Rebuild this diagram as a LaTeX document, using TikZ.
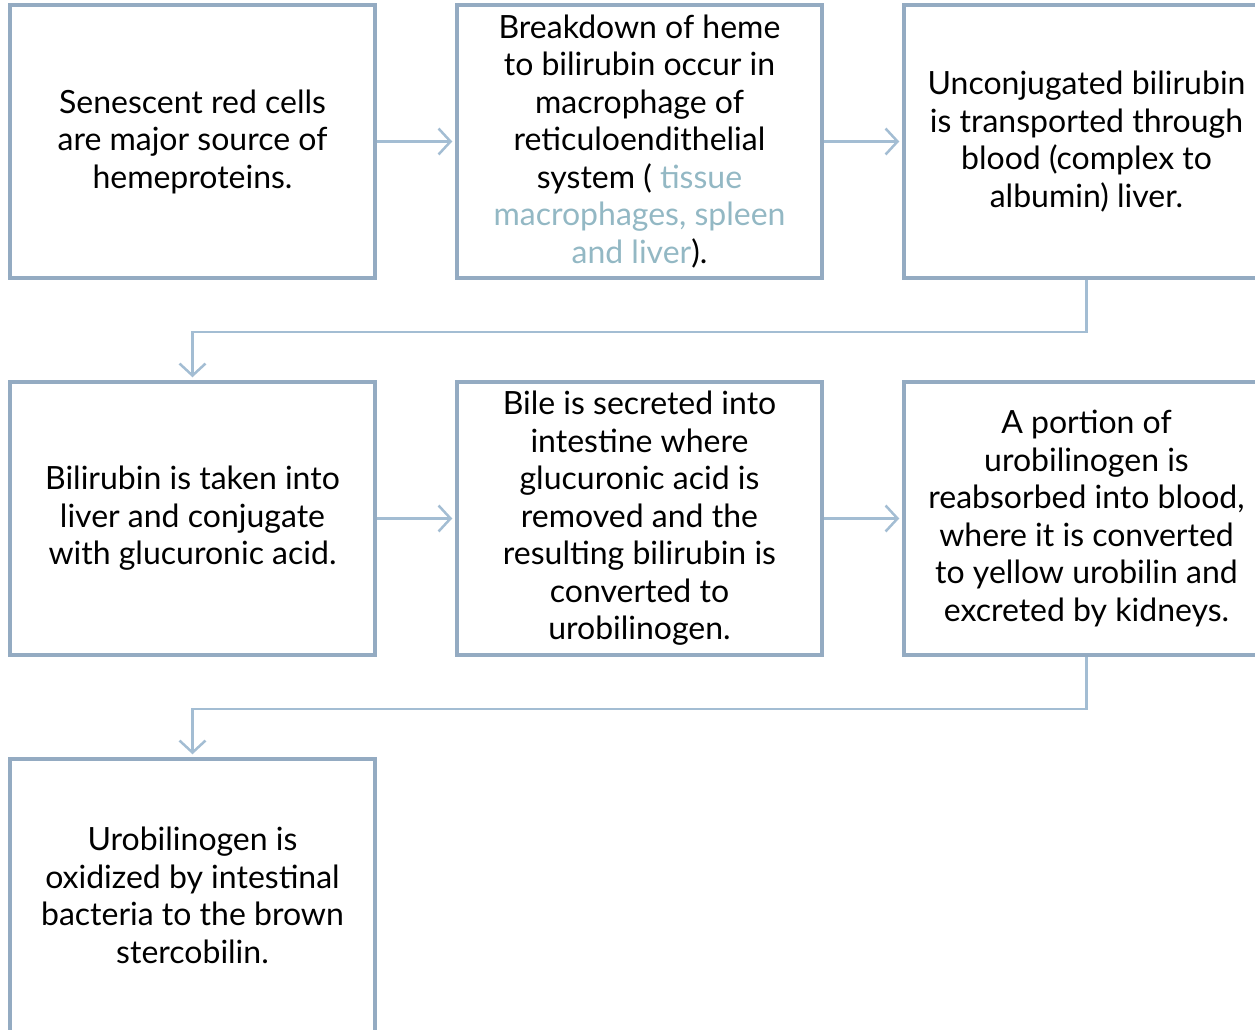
\documentclass[tikz,border=0pt]{standalone}
\usepackage{fontspec}
\setmainfont{Lato}
\usetikzlibrary{positioning,arrows.meta}
\definecolor{boxline}{RGB}{148,171,194}
\definecolor{flowline}{RGB}{163,189,211}
\definecolor{paletxt}{RGB}{147,184,196}
\begin{document}
\begin{tikzpicture}[x=1pt, y=-1pt, font=\fontsize{32}{37.5}\selectfont,
  stage/.style={draw=boxline, line width=3.5pt, minimum width=365pt,
    minimum height=273pt, align=center, inner sep=0pt},
  flow/.style={draw=flowline, line width=2.5pt,
    -{Straight Barb[length=12pt,width=26pt]}, shorten >=3pt},
  node distance=100.5pt and 78.5pt]
  \useasboundingbox (0,0) rectangle (1255,1030);
  \clip (0,0) rectangle (1255,1030);

  % first row
  \node[stage] (senescent) at (192.5,141.5)
    {Senescent red cells\\are major source of\\hemeproteins.};
  \node[stage, right=of senescent] (breakdown)
    {Breakdown of heme\\to bilirubin occur in\\macrophage of\\reticuloendithelial\\
     system ( \textcolor{paletxt}{tissue}\\\textcolor{paletxt}{macrophages, spleen}\\
     \textcolor{paletxt}{and liver}).};
  \node[stage, right=of breakdown] (transport)
    {Unconjugated bilirubin\\is transported through\\blood (complex to\\albumin) liver.};

  % second row
  \node[stage, below=of senescent] (conjugate)
    {Bilirubin is taken into\\liver and conjugate\\with glucuronic acid.};
  \node[stage, right=of conjugate] (bile)
    {Bile is secreted into\\intestine where\\glucuronic acid is\\removed and the\\
     resulting bilirubin is\\converted to\\urobilinogen.};
  \node[stage, right=of bile] (reabsorb)
    {A portion of\\urobilinogen is\\reabsorbed into blood,\\where it is converted\\
     to yellow urobilin and\\excreted by kidneys.};

  % third row
  \node[stage, below=of conjugate] (stercobilin)
    {Urobilinogen is\\oxidized by intestinal\\bacteria to the brown\\stercobilin.};

  \draw[flow] (senescent) -- (breakdown);
  \draw[flow] (breakdown) -- (transport);
  \draw[flow] (conjugate) -- (bile);
  \draw[flow] (bile) -- (reabsorb);
  \draw[flow] (transport.south) -- ++(0,52) -| (conjugate.north);
  \draw[flow] (reabsorb.south) -- ++(0,52) -| (stercobilin.north);
\end{tikzpicture}
\end{document}
